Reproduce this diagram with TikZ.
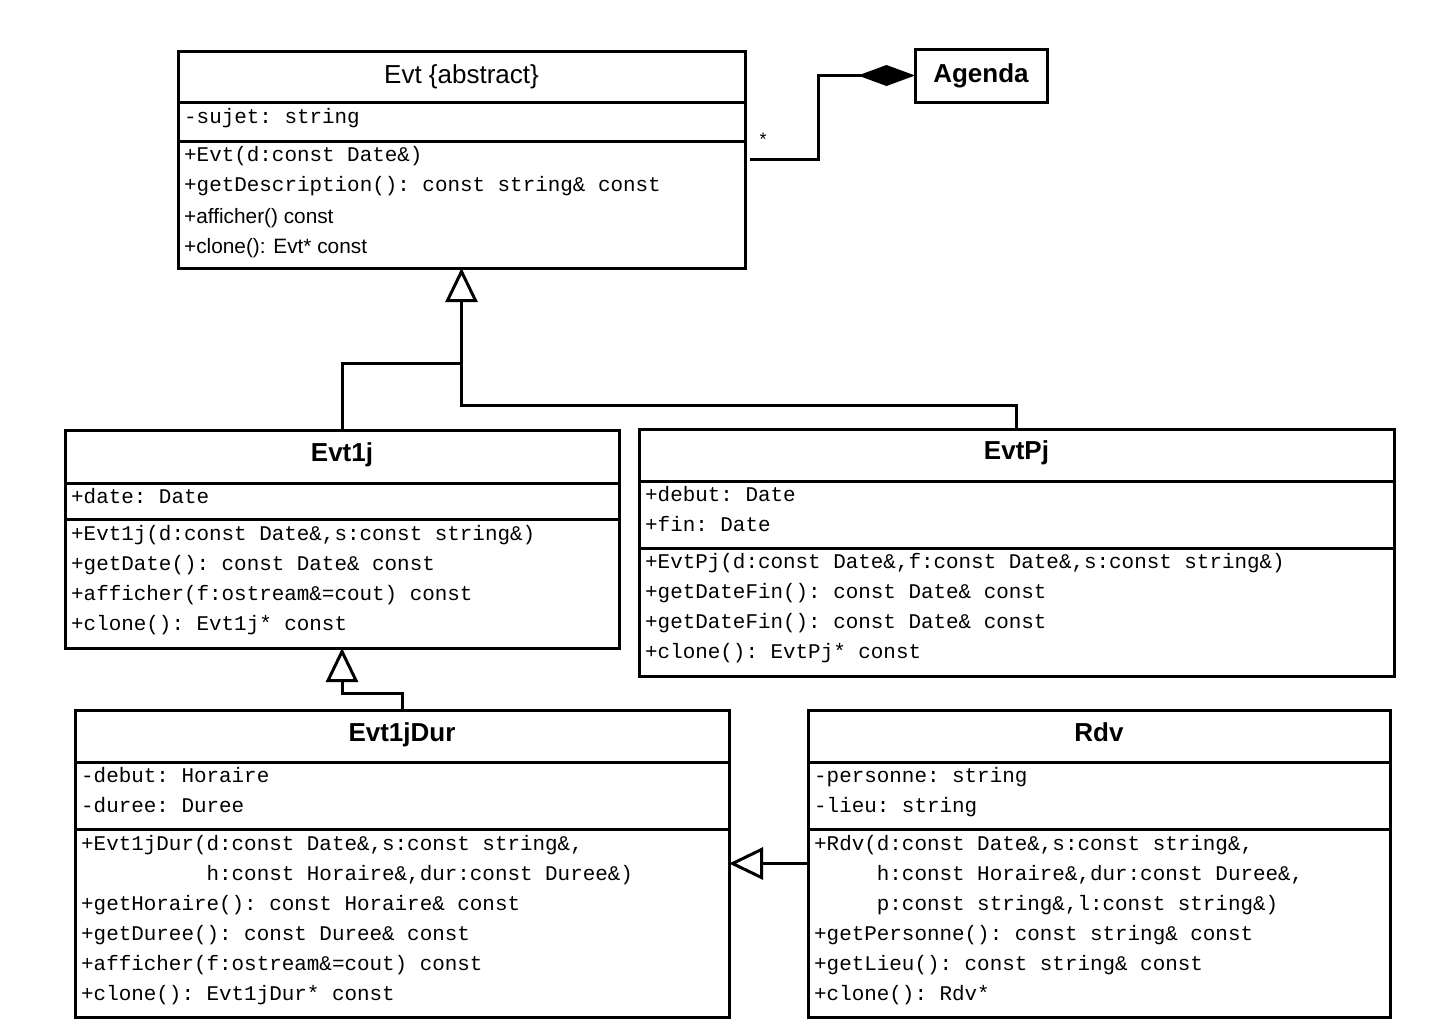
\documentclass[tikz,border=0pt]{standalone}
\usepackage{fontspec}
\setmainfont{Liberation Sans}
\setmonofont{Liberation Mono}
\usetikzlibrary{arrows.meta}
\begin{document}
\begin{tikzpicture}[x=1pt,y=-1pt,
  box/.style={draw, line width=3pt, fill=white, anchor=north west, inner sep=0pt, outer sep=0pt},
  sepline/.style={line width=3pt},
  hdtitle/.style={font=\fontsize{26}{30}\selectfont\bfseries, inner sep=0pt, anchor=base},
  hdplain/.style={font=\fontsize{26}{30}\selectfont, inner sep=0pt, anchor=base},
  mono/.style={anchor=west, inner sep=0pt, font=\fontsize{20.9}{25}\ttfamily, text height=15pt, text depth=5pt},
  sans/.style={anchor=west, inner sep=0pt, font=\fontsize{20.8}{25}\selectfont, text height=15pt, text depth=5pt},
  conn/.style={line width=3pt},
  inh/.style={line width=3pt, -{Triangle[open, length=34pt, width=32pt]}},
  comp/.style={line width=3pt, -{Diamond[length=57pt, width=21pt, fill=black]}},
]
\useasboundingbox (0,0) rectangle (1436,1029);

% ---------- Evt ----------
\node[box, minimum width=567pt, minimum height=217pt] (evt) at (178,51) {};
\draw[sepline] (evt.west |- 0,102) -- (evt.east |- 0,102);
\draw[sepline] (evt.west |- 0,141) -- (evt.east |- 0,141);
\node[hdplain] (evtT) at (461.5,83.5) {Evt \{abstract\}};
\node[mono] (evtA1) at (184,118) {-sujet: string};
\node[mono] (evtM1) at (184,156) {+Evt(d:const Date\&)};
\node[mono] (evtM2) at (184,186) {+getDescription(): const string\& const};
\node[sans] (evtM3) at (184,218) {+afficher() const};
\node[sans] (evtM4) at (184,248) {+clone(): Evt* const};

% ---------- Agenda ----------
\node[box, minimum width=132pt, minimum height=53pt] (agenda) at (915,49) {};
\node[hdtitle] (agendaT) at (981,82.5) {Agenda};

% ---------- Evt1j ----------
\node[box, minimum width=554pt, minimum height=218pt] (evt1j) at (65,430) {};
\draw[sepline] (evt1j.west |- 0,483) -- (evt1j.east |- 0,483);
\draw[sepline] (evt1j.west |- 0,519) -- (evt1j.east |- 0,519);
\node[hdtitle] (evt1jT) at (342,461.5) {Evt1j};
\node[mono] (evt1jA1) at (71,498) {+date: Date};
\node[mono] (evt1jM1) at (71,535) {+Evt1j(d:const Date\&,s:const string\&)};
\node[mono] (evt1jM2) at (71,565) {+getDate(): const Date\& const};
\node[mono] (evt1jM3) at (71,595) {+afficher(f:ostream\&=cout) const};
\node[mono] (evt1jM4) at (71,625) {+clone(): Evt1j* const};

% ---------- EvtPj ----------
\node[box, minimum width=755pt, minimum height=247pt] (evtpj) at (639,429) {};
\draw[sepline] (evtpj.west |- 0,481) -- (evtpj.east |- 0,481);
\draw[sepline] (evtpj.west |- 0,548) -- (evtpj.east |- 0,548);
\node[hdtitle] (evtpjT) at (1016.5,459.5) {EvtPj};
\node[mono] (evtpjA1) at (645,496) {+debut: Date};
\node[mono] (evtpjA2) at (645,526) {+fin: Date};
\node[mono] (evtpjM1) at (645,563) {+EvtPj(d:const Date\&,f:const Date\&,s:const string\&)};
\node[mono] (evtpjM2) at (645,593) {+getDateFin(): const Date\& const};
\node[mono] (evtpjM3) at (645,623) {+getDateFin(): const Date\& const};
\node[mono] (evtpjM4) at (645,653) {+clone(): EvtPj* const};

% ---------- Evt1jDur ----------
\node[box, minimum width=654pt, minimum height=307pt] (evt1jdur) at (75,710) {};
\draw[sepline] (evt1jdur.west |- 0,762) -- (evt1jdur.east |- 0,762);
\draw[sepline] (evt1jdur.west |- 0,829) -- (evt1jdur.east |- 0,829);
\node[hdtitle] (evt1jdurT) at (402,741.5) {Evt1jDur};
\node[mono] (durA1) at (81,777) {-debut: Horaire};
\node[mono] (durA2) at (81,807) {-duree: Duree};
\node[mono] (durM1) at (81,845) {+Evt1jDur(d:const Date\&,s:const string\&,};
\node[mono] (durM1b) at (206.4,875) {h:const Horaire\&,dur:const Duree\&)};
\node[mono] (durM2) at (81,905) {+getHoraire(): const Horaire\& const};
\node[mono] (durM3) at (81,935) {+getDuree(): const Duree\& const};
\node[mono] (durM4) at (81,965) {+afficher(f:ostream\&=cout) const};
\node[mono] (durM5) at (81,995) {+clone(): Evt1jDur* const};

% ---------- Rdv ----------
\node[box, minimum width=582pt, minimum height=307pt] (rdv) at (808,710) {};
\draw[sepline] (rdv.west |- 0,762) -- (rdv.east |- 0,762);
\draw[sepline] (rdv.west |- 0,829) -- (rdv.east |- 0,829);
\node[hdtitle] (rdvT) at (1099,741.5) {Rdv};
\node[mono] (rdvA1) at (814,777) {-personne: string};
\node[mono] (rdvA2) at (814,807) {-lieu: string};
\node[mono] (rdvM1) at (814,845) {+Rdv(d:const Date\&,s:const string\&,};
\node[mono] (rdvM1b) at (876.7,875) {h:const Horaire\&,dur:const Duree\&,};
\node[mono] (rdvM1c) at (876.7,905) {p:const string\&,l:const string\&)};
\node[mono] (rdvM2) at (814,935) {+getPersonne(): const string\& const};
\node[mono] (rdvM3) at (814,965) {+getLieu(): const string\& const};
\node[mono] (rdvM4) at (814,995) {+clone(): Rdv*};

% ---------- connectors ----------
\coordinate (evtc) at (750,159);
\coordinate (bend) at (818,159);
\draw[comp] (evtc) -- (bend) -- (bend |- agenda.west) -- (agenda.west);
\node[font=\fontsize{18}{20}\selectfont, inner sep=0pt] (mult) at (763,139) {*};

\draw[inh] (evt1j.north) |- (evt.south |- 0,363) -- (evt.south);
\draw[conn] (evtpj.north) |- (evt.south |- 0,405) -- (evt.south |- 0,362);
\draw[inh] (evt1jdur.north) |- (evt1j.south |- 0,693) -- (evt1j.south);
\draw[inh] (rdv.west) -- (evt1jdur.east);
\end{tikzpicture}
\end{document}
